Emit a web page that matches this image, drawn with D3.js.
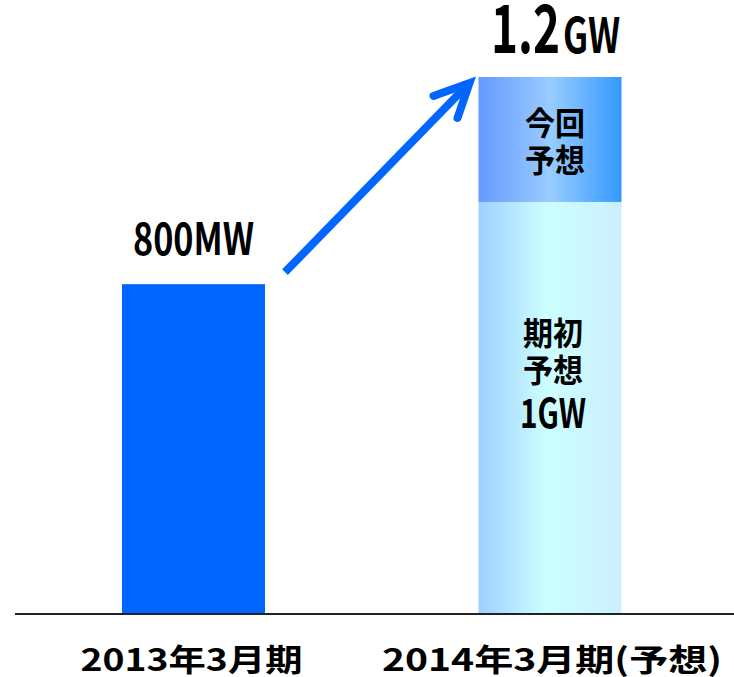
<!DOCTYPE html>
<html><head><meta charset="utf-8">
<script src="https://cdn.jsdelivr.net/npm/d3@7"></script>
<style>body{margin:0;background:#fff}svg{display:block}</style>
</head><body>
<script>
// Data (bar heights; the chart is not drawn to scale at the top)
const categories = ["2013年3月期", "2014年3月期(予想)"];
const baseValues = [800, 1000];        // MW: actual, initial forecast
const extraValues = [0, 304];          // visual height of "今回予想" segment on the same scale
const valueLabels = ["800MW", ""];
const topLabelMain = "1.2", topLabelUnit = "GW";
const segLabelsTop = ["今回", "予想"];
const segLabelsBase = ["期初", "予想", "1GW"];

const W = 734, H = 677;
const svg = d3.select("body").append("svg").attr("width", W).attr("height", H);
const font = "'Noto Sans CJK JP','Noto Sans',sans-serif";

const maxV = d3.max(baseValues.map((v, i) => v + extraValues[i]));
const y = d3.scaleLinear().domain([0, maxV]).range([613, 77]);
const x = d3.scalePoint().domain(categories).range([193.5, 550]);
const bw = 143;

const defs = svg.append("defs");
function grad(id, stops) {
  const g = defs.append("linearGradient").attr("id", id).attr("x1", "0%").attr("x2", "100%").attr("y1", "0%").attr("y2", "0%");
  stops.forEach(s => g.append("stop").attr("offset", s[0]).attr("stop-color", s[1]));
}
grad("gBase", [["0%", "#9FCFFF"], ["48%", "#CCFFFF"], ["100%", "#CCEEFF"]]);
grad("gTop", [["0%", "#6699FF"], ["50%", "#99CCFF"], ["100%", "#3399FF"]]);

// base bars
svg.selectAll(".base").data(categories).join("rect")
  .attr("x", d => x(d) - bw / 2)
  .attr("y", (d, i) => y(baseValues[i]))
  .attr("width", bw)
  .attr("height", (d, i) => y(0) - y(baseValues[i]))
  .attr("fill", (d, i) => i === 0 ? "#0066FF" : "url(#gBase)");

// top segment
svg.selectAll(".extra").data(categories.filter((d, i) => extraValues[i] > 0)).join("rect")
  .attr("x", d => x(d) - bw / 2)
  .attr("y", d => { const i = categories.indexOf(d); return y(baseValues[i] + extraValues[i]); })
  .attr("width", bw)
  .attr("height", d => { const i = categories.indexOf(d); return y(baseValues[i]) - y(baseValues[i] + extraValues[i]); })
  .attr("fill", "url(#gTop)");

// baseline
svg.append("line").attr("x1", 15).attr("x2", W).attr("y1", y(0) + 1).attr("y2", y(0) + 1)
  .attr("stroke", "#222").attr("stroke-width", 2);

function txt(s, cx, yy, size, len, anchor) {
  const t = svg.append("text").attr("x", cx).attr("y", yy).attr("text-anchor", anchor || "middle")
    .attr("font-family", font).attr("font-weight", "bold").attr("font-size", size).attr("fill", "#000").text(s);
  if (len) t.attr("textLength", len).attr("lengthAdjust", "spacingAndGlyphs");
  return t;
}

// value label bar1
txt(valueLabels[0], x(categories[0]), y(baseValues[0]) - 29, 44, 121);

// top label 1.2GW
txt(topLabelMain, 491, 53, 66, 69, "start");
txt(topLabelUnit, 563, 53, 48, 57, "start");

// segment labels
const c2 = x(categories[1]) + 3;
segLabelsTop.forEach((s, i) => txt(s, c2 + 2, 135 + i * 37, 32, 60));
segLabelsBase.forEach((s, i) => {
  txt(s, c2, 345 + i * 37 + (i === 2 ? 9 : 0), i === 2 ? 40 : 32, i === 2 ? 66 : 60);
});

// category labels
txt(categories[0], x(categories[0]) - 2, 671, 31, 222);
txt(categories[1], x(categories[1]) + 2, 671, 31, 340);

// arrow
const ax1 = x(categories[0]) + bw / 2 + 20, ay1 = y(baseValues[0]) - 12;
const ax2 = x(categories[1]) - bw / 2 - 9, ay2 = y(baseValues[1] + extraValues[1]) + 6;
svg.append("line").attr("x1", ax1).attr("y1", ay1).attr("x2", ax2 - 3).attr("y2", ay2 + 3)
  .attr("stroke", "#0066FF").attr("stroke-width", 8);
svg.append("path")
  .attr("d", `M${ax2 - 36},${ay2 + 13} L${ax2},${ay2} L${ax2 - 12},${ay2 + 35}`)
  .attr("fill", "none").attr("stroke", "#0066FF").attr("stroke-width", 8)
  .attr("stroke-linecap", "round").attr("stroke-linejoin", "miter");
</script>
</body></html>
